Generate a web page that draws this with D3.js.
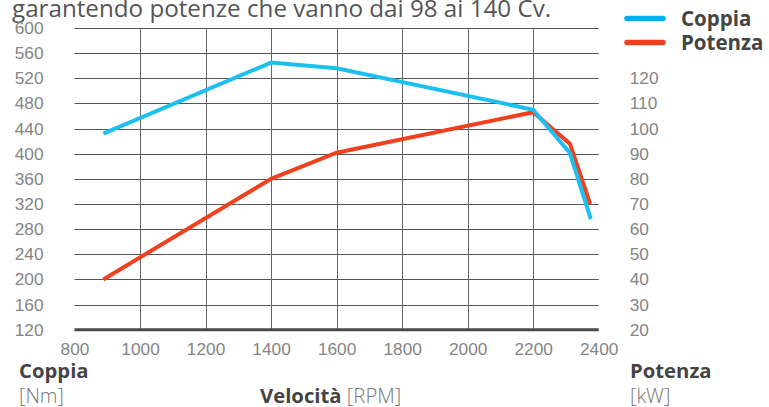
<!DOCTYPE html>
<html>
<head>
<meta charset="utf-8">
<script src="https://cdn.jsdelivr.net/npm/d3@7"></script>
<style>
  body { margin: 0; background: #fff; }
  svg { display: block; font-family: "Open Sans", sans-serif; }
  .tick text { fill: #858585; font-size: 17.3px; font-weight: 300; }
</style>
</head>
<body>
<div id="chart"></div>
<script>
// data
var rpmCoppia = [888, 1400, 1600, 2200, 2312, 2376];
var coppia = [432, 545, 536, 470, 401, 296];
var rpmPotenza = [888, 1400, 1600, 2200, 2312, 2374];
var potenza = [40, 80, 90.4, 106.5, 94, 70];
var xTicks = [800, 1000, 1200, 1400, 1600, 1800, 2000, 2200, 2400];
var leftTicks = [120, 160, 200, 240, 280, 320, 360, 400, 440, 480, 520, 560, 600];
var rightTicks = [20, 30, 40, 50, 60, 70, 80, 90, 100, 110, 120];
var title = "garantendo potenze che vanno dai 98 ai 140 Cv.";

var width = 769, height = 407;
var padLeft = 74.5, padRight = 598.7, padTop = 28, padBottom = 329.7;

var svg = d3.select("#chart").append("svg")
    .attr("width", width)
    .attr("height", height);

var x = d3.scaleLinear().domain([800, 2400]).range([padLeft, padRight]);
var yL = d3.scaleLinear().domain([120, 600]).range([padBottom, padTop]);
var yR = d3.scaleLinear().domain([20, 140]).range([padBottom, padTop]);

// title (cut at the top like the reference)
svg.append("text")
    .attr("x", 12)
    .attr("y", 17)
    .attr("fill", "#555")
    .style("font-size", "24.2px")
    .text(title);

// grid
svg.append("g")
    .selectAll("line")
    .data(leftTicks.slice(1))
    .enter()
    .append("line")
    .attr("x1", padLeft)
    .attr("x2", padRight)
    .attr("y1", function (d) { return Math.round(yL(d)) + 0.5; })
    .attr("y2", function (d) { return Math.round(yL(d)) + 0.5; })
    .attr("stroke", "#555")
    .attr("stroke-width", 1);

svg.append("g")
    .selectAll("line")
    .data(xTicks.slice(1, -1))
    .enter()
    .append("line")
    .attr("x1", function (d) { return Math.round(x(d)) + 0.5; })
    .attr("x2", function (d) { return Math.round(x(d)) + 0.5; })
    .attr("y1", padTop)
    .attr("y2", padBottom)
    .attr("stroke", "#666")
    .attr("stroke-width", 1);

// baseline
svg.append("line")
    .attr("x1", padLeft).attr("x2", padRight)
    .attr("y1", padBottom).attr("y2", padBottom)
    .attr("stroke", "#4a4a4a")
    .attr("stroke-width", 3);

// axes
var fmt = d3.format("d");
var xAxis = d3.axisBottom(x).tickValues(xTicks).tickFormat(fmt).tickSize(0).tickPadding(13);
var gx = svg.append("g")
    .attr("transform", "translate(0," + padBottom + ")")
    .call(xAxis);
gx.select(".domain").remove();

var yAxisL = d3.axisLeft(yL).tickValues(leftTicks).tickFormat(fmt).tickSize(0).tickPadding(31);
var gl = svg.append("g")
    .attr("transform", "translate(" + padLeft + ",0)")
    .call(yAxisL);
gl.select(".domain").remove();

var yAxisR = d3.axisRight(yR).tickValues(rightTicks).tickFormat(fmt).tickSize(0).tickPadding(31);
var gr = svg.append("g")
    .attr("transform", "translate(" + padRight + ",0)")
    .call(yAxisR);
gr.select(".domain").remove();

// lines
var lineL = d3.line()
    .x(function (d) { return x(d[0]); })
    .y(function (d) { return yL(d[1]); });
var lineR = d3.line()
    .x(function (d) { return x(d[0]); })
    .y(function (d) { return yR(d[1]); });

svg.append("path")
    .datum(d3.zip(rpmPotenza, potenza))
    .attr("d", lineR)
    .attr("fill", "none")
    .attr("stroke", "#f0401e")
    .attr("stroke-width", 4);

svg.append("path")
    .datum(d3.zip(rpmCoppia, coppia))
    .attr("d", lineL)
    .attr("fill", "none")
    .attr("stroke", "#1cc0f0")
    .attr("stroke-width", 4);

// legend
var legend = [
    { name: "Coppia", color: "#00b0f0", y: 18.5 },
    { name: "Potenza", color: "#f0401e", y: 42.5 }
];
var lg = svg.append("g");
lg.selectAll("line")
    .data(legend)
    .enter()
    .append("line")
    .attr("x1", 627).attr("x2", 663)
    .attr("y1", function (d) { return d.y; })
    .attr("y2", function (d) { return d.y; })
    .attr("stroke", function (d) { return d.color; })
    .attr("stroke-width", 5.5)
    .attr("stroke-linecap", "round");
lg.selectAll("text")
    .data(legend)
    .enter()
    .append("text")
    .attr("x", 681)
    .attr("y", function (d) { return d.y + 7.5; })
    .attr("fill", "#444")
    .style("font-size", "20.5px")
    .style("font-weight", "bold")
    .text(function (d) { return d.name; });

// axis titles
svg.append("text").attr("x", 19).attr("y", 378)
    .attr("fill", "#444").style("font-size", "20.3px").style("font-weight", "bold")
    .text("Coppia");
svg.append("text").attr("x", 19).attr("y", 403)
    .attr("fill", "#777").style("font-size", "20px").style("font-weight", "300")
    .text("[Nm]");

svg.append("text").attr("x", 630).attr("y", 378)
    .attr("fill", "#444").style("font-size", "20.3px").style("font-weight", "bold")
    .text("Potenza");
svg.append("text").attr("x", 630).attr("y", 403)
    .attr("fill", "#777").style("font-size", "20px").style("font-weight", "300")
    .text("[kW]");

var vt = svg.append("text").attr("x", 260).attr("y", 403)
    .style("font-size", "20.3px");
vt.append("tspan").attr("fill", "#444").style("font-weight", "bold").text("Velocità");
vt.append("tspan").attr("fill", "#777").style("font-weight", "300").text(" [RPM]");
</script>
</body>
</html>
